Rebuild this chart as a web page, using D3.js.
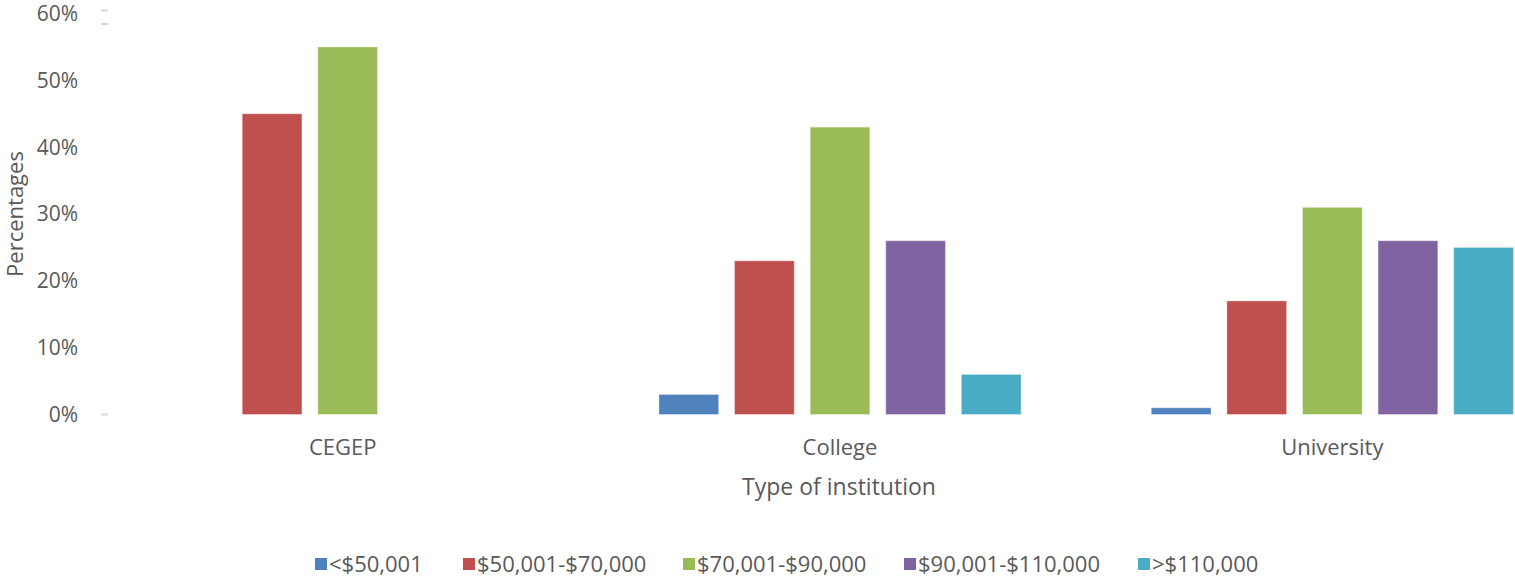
<!DOCTYPE html>
<html>
<head>
<meta charset="utf-8">
<script src="https://cdn.jsdelivr.net/npm/d3@7"></script>
<style>
  html, body { margin: 0; padding: 0; background: #fff; }
  svg { display: block; font-family: "Open Sans", sans-serif; }
</style>
</head>
<body>
<div id="chart"></div>
<script>
// Share of respondents by income bracket, per type of institution
const institutions = ['CEGEP', 'College', 'University'];
const brackets = ['<$50,001', '$50,001-$70,000', '$70,001-$90,000', '$90,001-$110,000', '>$110,000'];
const colors = ['#4f81bd', '#c0504d', '#9bbb59', '#8064a2', '#4bacc6'];
const cegep = [null, 45, 55, null, null];
const college = [3, 23, 43, 26, 6];
const university = [1, 17, 31, 26, 25];
const yTicks = [0, 10, 20, 30, 40, 50, 60];

const seriesByInst = { CEGEP: cegep, College: college, University: university };

const width = 1515, height = 580;
const plot = { left: 101.5, right: 1578.5, top: 13.5, bottom: 414.5 };

const svg = d3.select('#chart').append('svg')
  .attr('width', width)
  .attr('height', height);

const x = d3.scaleBand()
  .domain(institutions)
  .range([plot.left, plot.right])
  .padding(0);

const groupW = 378;
const xInner = d3.scaleBand()
  .domain(brackets)
  .range([0, groupW])
  .paddingInner(0.21)
  .paddingOuter(0.105);

const y = d3.scaleLinear()
  .domain([0, 60])
  .range([plot.bottom, plot.top]);

// y axis labels
svg.append('g')
  .selectAll('text')
  .data(yTicks)
  .join('text')
  .attr('x', 78)
  .attr('y', d => y(d))
  .attr('dy', '0.35em')
  .attr('text-anchor', 'end')
  .style('font-size', '21px')
  .style('fill', '#595959')
  .text(d => d + '%');

// stray tick marks on the axis line
[y(0), y(60) - 3, y(60) + 10.5].forEach(v => {
  svg.append('line')
    .attr('x1', 101).attr('x2', 108)
    .attr('y1', v).attr('y2', v)
    .attr('stroke', '#d9d9d9')
    .attr('stroke-width', 2);
});

// bars
institutions.forEach(inst => {
  const cx = x(inst) + x.bandwidth() / 2;
  const g = svg.append('g')
    .attr('transform', `translate(${cx - groupW / 2},0)`);
  const rows = brackets.map((b, i) => ({ b, i, v: seriesByInst[inst][i] }))
    .filter(d => d.v != null);
  g.selectAll('rect')
    .data(rows)
    .join('rect')
    .attr('x', d => xInner(d.b))
    .attr('width', xInner.bandwidth())
    .attr('y', d => y(d.v))
    .attr('height', d => y(0) - y(d.v))
    .attr('fill', d => colors[d.i])
    .attr('stroke', '#fff')
    .attr('stroke-opacity', 0.35)
    .attr('stroke-width', 1);

  svg.append('text')
    .attr('x', cx - (inst === 'CEGEP' ? 5 : 0))
    .attr('y', 447)
    .attr('dy', '0.35em')
    .attr('text-anchor', 'middle')
    .style('font-size', '22px')
    .style('fill', '#595959')
    .text(inst);
});

// axis titles
svg.append('text')
  .attr('x', 839)
  .attr('y', 487)
  .attr('dy', '0.35em')
  .attr('text-anchor', 'middle')
  .style('font-size', '23px')
  .style('fill', '#595959')
  .text('Type of institution');

svg.append('text')
  .attr('transform', 'translate(15,214) rotate(-90)')
  .attr('dy', '0.35em')
  .attr('text-anchor', 'middle')
  .style('font-size', '22px')
  .style('fill', '#595959')
  .text('Percentages');

// legend
const legendX = [315, 463, 683, 904, 1138];
const legend = svg.append('g');
brackets.forEach((b, i) => {
  const lg = legend.append('g')
    .attr('transform', `translate(${legendX[i]},564)`);
  lg.append('rect')
    .attr('x', 0).attr('y', -6)
    .attr('width', 12).attr('height', 12)
    .attr('fill', colors[i]);
  lg.append('text')
    .attr('x', 14)
    .attr('dy', '0.35em')
    .style('font-size', '22px')
    .style('fill', '#595959')
    .text(b);
});
</script>
</body>
</html>
